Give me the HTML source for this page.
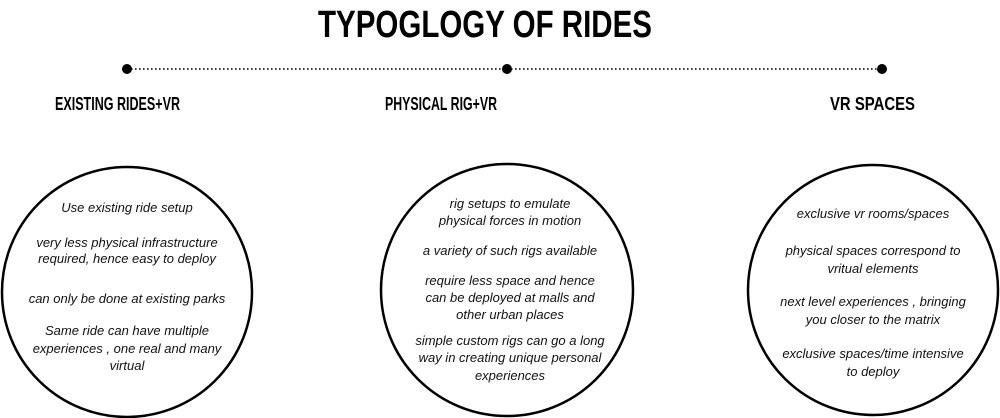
<!DOCTYPE html>
<html><head><meta charset="utf-8"><style>
html,body{margin:0;padding:0;background:#fff;width:1000px;height:418px;overflow:hidden}
svg{display:block}
.t{font-family:"Liberation Sans Narrow","Liberation Sans",sans-serif;font-weight:bold;fill:#000}
.b{font-family:"Liberation Sans",sans-serif;font-style:italic;font-size:13px;fill:#111;text-anchor:middle}
</style></head><body>
<svg width="1000" height="418" viewBox="0 0 1000 418">
<text class="t" x="318" y="37" font-size="38" textLength="334" lengthAdjust="spacingAndGlyphs">TYPOGLOGY OF RIDES</text>
<line x1="127" y1="69" x2="882" y2="69" stroke="#000" stroke-width="1.6" stroke-dasharray="1.6 2.4"/>
<circle cx="127" cy="69" r="5" fill="#000"/>
<circle cx="507" cy="69" r="5" fill="#000"/>
<circle cx="882" cy="69" r="5" fill="#000"/>
<text class="t" x="55" y="110" font-size="18" textLength="125" lengthAdjust="spacingAndGlyphs">EXISTING RIDES+VR</text>
<text class="t" x="385" y="110" font-size="18" textLength="112" lengthAdjust="spacingAndGlyphs">PHYSICAL RIG+VR</text>
<text class="t" x="830" y="110" font-size="18" textLength="85" lengthAdjust="spacingAndGlyphs">VR SPACES</text>
<circle cx="127" cy="292" r="125" fill="none" stroke="#000" stroke-width="2.5"/>
<circle cx="507" cy="290" r="126" fill="none" stroke="#000" stroke-width="2.5"/>
<circle cx="873" cy="290" r="125" fill="none" stroke="#000" stroke-width="2.5"/>
<g class="b">
<text x="127" y="212">Use existing ride setup</text>
<text x="127" y="247">very less physical  infrastructure</text>
<text x="127" y="263">required, hence easy to deploy</text>
<text x="127" y="303">can only be done at existing parks</text>
<text x="127" y="335">Same ride can have multiple</text>
<text x="127" y="353">experiences , one real and many</text>
<text x="127" y="370">virtual</text>
<text x="510" y="208">rig setups to emulate</text>
<text x="510" y="225">physical forces in motion</text>
<text x="510" y="255">a variety of such rigs available</text>
<text x="510" y="285">require less space and hence</text>
<text x="510" y="302">can be deployed at malls and</text>
<text x="510" y="319">other urban places</text>
<text x="510" y="345">simple custom rigs can go a long</text>
<text x="510" y="362">way in creating unique personal</text>
<text x="510" y="380">experiences</text>
<text x="873" y="218">exclusive vr rooms/spaces</text>
<text x="873" y="255">physical spaces correspond to</text>
<text x="873" y="273">vritual elements</text>
<text x="873" y="306">next level experiences , bringing</text>
<text x="873" y="324">you closer to the matrix</text>
<text x="873" y="358">exclusive spaces/time intensive</text>
<text x="873" y="376">to deploy</text>
</g>
</svg>
</body></html>
